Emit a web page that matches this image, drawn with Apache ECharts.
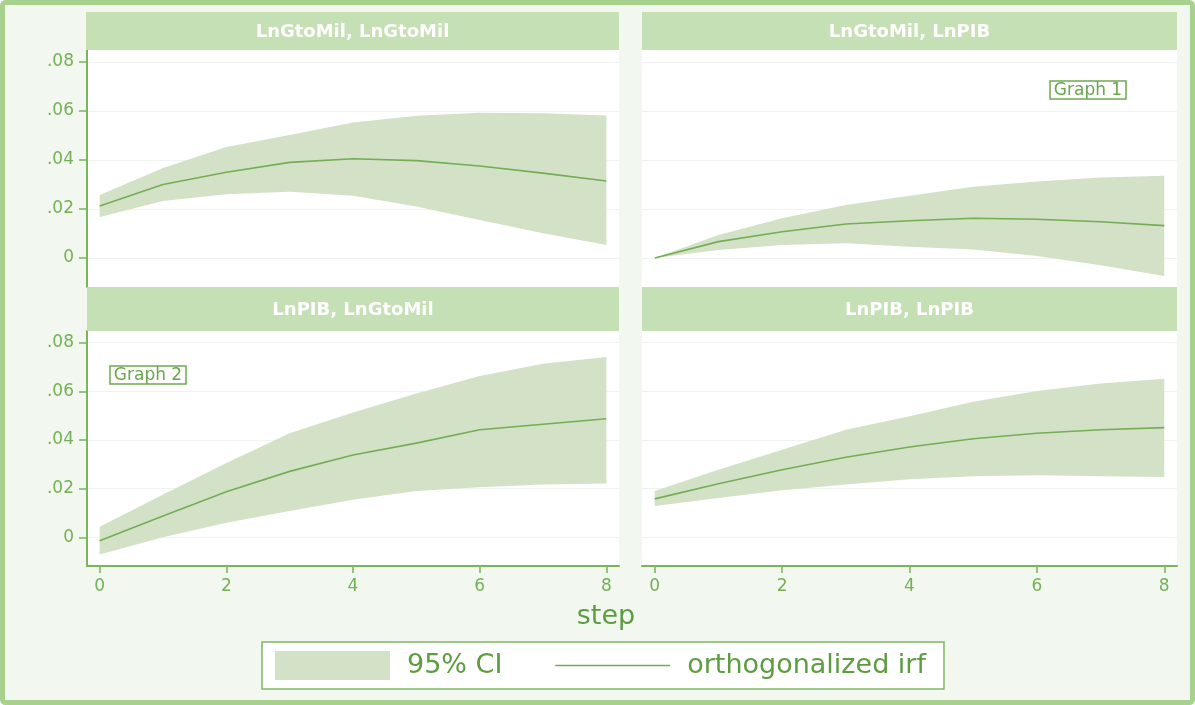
<!DOCTYPE html>
<html>
<head>
<meta charset="utf-8">
<script src="https://cdn.jsdelivr.net/npm/echarts@6/dist/echarts.min.js"></script>
<style>
  html, body { margin: 0; padding: 0; background: #ffffff; }
  #chart { width: 1195px; height: 705px; }
</style>
</head>
<body>
<div id="chart"></div>
<script>
// Impulse-response horizon and tick positions
const steps = [0, 1, 2, 3, 4, 5, 6, 7, 8];
const xTicks = [0, 2, 4, 6, 8];
const yTicks = [0, 0.02, 0.04, 0.06, 0.08];

const panelTitles = ['LnGtoMil, LnGtoMil', 'LnGtoMil, LnPIB', 'LnPIB, LnGtoMil', 'LnPIB, LnPIB'];

// impulse LnGtoMil -> response LnGtoMil
const gmGmIrf   = [0.0212, 0.0300, 0.0350, 0.0390, 0.0405, 0.0397, 0.0375, 0.0346, 0.0314];
const gmGmLower = [0.0167, 0.0233, 0.0260, 0.0270, 0.0254, 0.0210, 0.0155, 0.0101, 0.0053];
const gmGmUpper = [0.0257, 0.0367, 0.0453, 0.0502, 0.0552, 0.0580, 0.0592, 0.0590, 0.0581];

// impulse LnGtoMil -> response LnPIB
const gmPibIrf   = [0.0000, 0.0067, 0.0107, 0.0139, 0.0152, 0.0162, 0.0158, 0.0148, 0.0132];
const gmPibLower = [0.0000, 0.0033, 0.0053, 0.0060, 0.0046, 0.0035, 0.0008, -0.0029, -0.0073];
const gmPibUpper = [0.0000, 0.0094, 0.0162, 0.0216, 0.0254, 0.0291, 0.0312, 0.0328, 0.0335];

// impulse LnPIB -> response LnGtoMil
const pibGmIrf   = [-0.0014, 0.0088, 0.0187, 0.0271, 0.0338, 0.0387, 0.0442, 0.0465, 0.0487];
const pibGmLower = [-0.0071, 0.0000, 0.0060, 0.0108, 0.0154, 0.0190, 0.0206, 0.0217, 0.0221];
const pibGmUpper = [0.0043, 0.0176, 0.0305, 0.0428, 0.0513, 0.0591, 0.0663, 0.0713, 0.0741];

// impulse LnPIB -> response LnPIB
const pibPibIrf   = [0.0158, 0.0220, 0.0278, 0.0329, 0.0371, 0.0405, 0.0428, 0.0442, 0.0451];
const pibPibLower = [0.0129, 0.0162, 0.0193, 0.0217, 0.0239, 0.0251, 0.0255, 0.0251, 0.0248];
const pibPibUpper = [0.0190, 0.0278, 0.0360, 0.0442, 0.0498, 0.0557, 0.0601, 0.0632, 0.0652];

const panels = [
  { irf: gmGmIrf,   lower: gmGmLower,   upper: gmGmUpper },
  { irf: gmPibIrf,  lower: gmPibLower,  upper: gmPibUpper },
  { irf: pibGmIrf,  lower: pibGmLower,  upper: pibGmUpper },
  { irf: pibPibIrf, lower: pibPibLower, upper: pibPibUpper }
];

// colours
const FRAME = '#a9d18e';
const PAGE_BG = '#f2f7ef';
const STRIP = '#c5e0b4';
const CI_FILL = '#d3e2c7';
const IRF_LINE = '#74ad55';
const AXIS = '#7ab55c';
const LABEL = '#74b055';
const TEXT = '#5e9c40';
const GRIDLINE = '#f1f3f0';
const FONT = 'DejaVu Sans';

// panel geometry: [left, top, width, height] of each plot region
const plotRects = [
  [87, 50, 532, 237],
  [642, 50, 535, 237],
  [87, 331, 532, 235],
  [642, 331, 535, 235]
];
const stripRects = [
  [86, 12, 533, 38],
  [642, 12, 535, 38],
  [87, 287, 532, 44],
  [642, 287, 535, 44]
];

const X_MIN = -0.2, X_MAX = 8.2;
const Y_MIN = -0.0118, Y_MAX = 0.0848;

const tickFmt = v => (v === 0 ? '0' : String(+v.toFixed(2)).replace(/^0\./, '.').replace(/^-0\./, '-.'));

const grids = plotRects.map(r => ({
  left: r[0], top: r[1], width: r[2], height: r[3],
  show: true, backgroundColor: '#ffffff', borderWidth: 0, containLabel: false
}));

const xAxes = plotRects.map((r, i) => {
  const bottomRow = i >= 2;
  return {
    type: 'value', gridIndex: i, min: X_MIN, max: X_MAX,
    show: bottomRow,
    axisLine: { show: bottomRow, onZero: false, lineStyle: { color: AXIS, width: 2 } },
    axisTick: { show: bottomRow, length: 7, customValues: xTicks, lineStyle: { color: AXIS, width: 1.5 } },
    axisLabel: { show: bottomRow, customValues: xTicks, color: LABEL, fontSize: 17, fontFamily: FONT, margin: 12 },
    splitLine: { show: false }
  };
});

const yAxes = plotRects.map((r, i) => {
  const leftCol = i % 2 === 0;
  return {
    type: 'value', gridIndex: i, min: Y_MIN, max: Y_MAX,
    axisLine: { show: leftCol, onZero: false, lineStyle: { color: AXIS, width: 2 } },
    axisTick: { show: leftCol, length: 8, customValues: yTicks, lineStyle: { color: AXIS, width: 1.5 } },
    axisLabel: { show: leftCol, customValues: yTicks, formatter: tickFmt, color: LABEL, fontSize: 17, fontFamily: FONT, margin: 13 },
    splitLine: { show: true, lineStyle: { color: GRIDLINE, width: 1 } }
  };
});

// confidence band: one polygon through the upper bounds and back along the lower bounds
function renderBand(params, api) {
  if (params.dataIndexInside !== 0) return null;
  const n = params.dataInsideLength;
  const top = [], bottom = [];
  for (let k = 0; k < n; k++) {
    const s = api.value(0, k);
    bottom.push(api.coord([s, api.value(1, k)]));
    top.push(api.coord([s, api.value(2, k)]));
  }
  return {
    type: 'polygon',
    shape: { points: top.concat(bottom.reverse()) },
    style: { fill: CI_FILL, stroke: null },
    silent: true
  };
}

const series = [];
panels.forEach((p, i) => {
  series.push({
    type: 'custom', name: '95% CI', xAxisIndex: i, yAxisIndex: i,
    data: steps.map((s, k) => [s, p.lower[k], p.upper[k]]),
    encode: { x: 0, y: [1, 2] },
    renderItem: renderBand,
    itemStyle: { color: CI_FILL },
    silent: true, z: 2
  });
  series.push({
    type: 'line', name: 'orthogonalized irf', xAxisIndex: i, yAxisIndex: i,
    data: steps.map((s, k) => [s, p.irf[k]]),
    symbol: 'none', silent: true,
    lineStyle: { color: IRF_LINE, width: 1.6 },
    color: IRF_LINE, z: 3
  });
});

const graphics = [
  // outer frame and panel background
  { type: 'rect', z: -10, shape: { x: 2.5, y: 2.5, width: 1190, height: 700, r: 3 },
    style: { fill: PAGE_BG, stroke: FRAME, lineWidth: 5 }, silent: true }
];
stripRects.forEach((r, i) => {
  graphics.push({ type: 'rect', z: 1, shape: { x: r[0], y: r[1], width: r[2], height: r[3] },
    style: { fill: STRIP }, silent: true });
  graphics.push({ type: 'text', z: 2, x: r[0] + r[2] / 2, y: r[1] + r[3] / 2 + 1,
    style: { text: panelTitles[i], fill: '#ffffff', font: 'bold 18px "' + FONT + '"',
      textAlign: 'center', textVerticalAlign: 'middle' }, silent: true });
});
// small annotation boxes
[['Graph 1', 1050, 81], ['Graph 2', 110, 366]].forEach(([t, x, y]) => {
  graphics.push({ type: 'rect', z: 10, shape: { x: x, y: y, width: 76, height: 18 },
    style: { fill: '#ffffff', stroke: '#6fa850', lineWidth: 1.5 }, silent: true });
  graphics.push({ type: 'text', z: 11, x: x + 38, y: y + 9.5,
    style: { text: t, fill: '#6aa64c', font: '17px "' + FONT + '"',
      textAlign: 'center', textVerticalAlign: 'middle' }, silent: true });
});
// shared x-axis title
graphics.push({ type: 'text', z: 5, x: 606, y: 617,
  style: { text: 'step', fill: TEXT, font: '27px "' + FONT + '"',
    textAlign: 'center', textVerticalAlign: 'middle' }, silent: true });

const option = {
  backgroundColor: '#ffffff',
  animation: false,
  grid: grids,
  xAxis: xAxes,
  yAxis: yAxes,
  series: series,
  graphic: { elements: graphics },
  legend: {
    left: 262, top: 642,
    orient: 'horizontal',
    padding: [9, 18, 9, 13],
    itemWidth: 115, itemHeight: 29, itemGap: 52,
    backgroundColor: '#ffffff', borderColor: '#7fb864', borderWidth: 1.5,
    selectedMode: false,
    formatter: name => '{t|' + name + '}',
    textStyle: {
      color: TEXT, fontSize: 27, fontFamily: FONT,
      rich: { t: { color: TEXT, fontSize: 27, fontFamily: FONT, padding: [0, 0, 0, 12] } }
    },
    data: [
      { name: '95% CI', icon: 'rect', itemStyle: { color: CI_FILL } },
      { name: 'orthogonalized irf', itemStyle: { opacity: 0 }, lineStyle: { color: IRF_LINE, width: 1.6 } }
    ]
  }
};

const chart = echarts.init(document.getElementById('chart'), null, { renderer: 'canvas' });
chart.setOption(option);
</script>
</body>
</html>
